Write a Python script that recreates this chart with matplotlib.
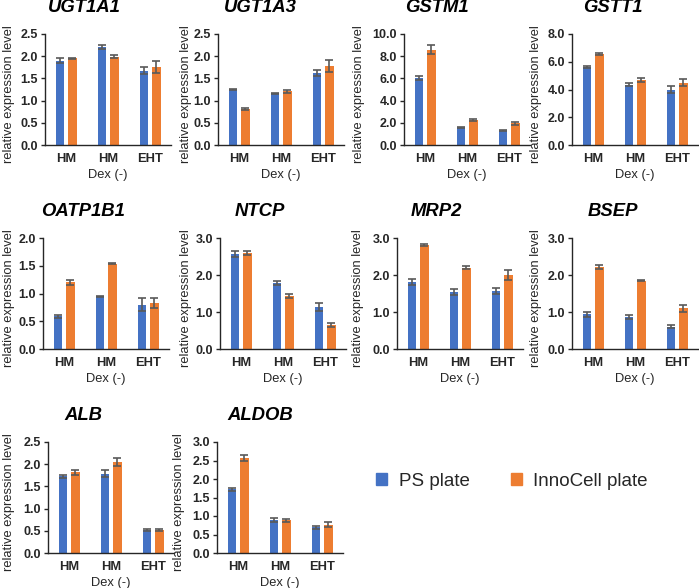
import matplotlib
matplotlib.use("Agg")
import matplotlib.pyplot as plt
from matplotlib.patches import Patch
import numpy as np

plt.rcParams['font.family'] = ['Liberation Sans', 'DejaVu Sans']

W, H = 699, 588

groups = ['HM', 'HM', 'EHT']
series = ['PS plate', 'InnoCell plate']
colors = ['#4472C4', '#ED7D31']

genes = ['UGT1A1', 'UGT1A3', 'GSTM1', 'GSTT1',
         'OATP1B1', 'NTCP', 'MRP2', 'BSEP',
         'ALB', 'ALDOB']

ps_vals = {
    'UGT1A1': [1.90, 2.21, 1.67],
    'UGT1A3': [1.25, 1.16, 1.62],
    'GSTM1': [6.05, 1.55, 1.30],
    'GSTT1': [5.60, 4.35, 4.00],
    'OATP1B1': [0.59, 0.95, 0.80],
    'NTCP': [2.57, 1.78, 1.13],
    'MRP2': [1.82, 1.54, 1.57],
    'BSEP': [0.94, 0.87, 0.60],
    'ALB': [1.73, 1.79, 0.52],
    'ALDOB': [1.72, 0.90, 0.69],
}
ps_err = {
    'UGT1A1': [0.06, 0.05, 0.08],
    'UGT1A3': [0.02, 0.02, 0.07],
    'GSTM1': [0.20, 0.05, 0.05],
    'GSTT1': [0.08, 0.12, 0.25],
    'OATP1B1': [0.03, 0.01, 0.11],
    'NTCP': [0.08, 0.05, 0.10],
    'MRP2': [0.08, 0.08, 0.08],
    'BSEP': [0.07, 0.06, 0.04],
    'ALB': [0.03, 0.08, 0.02],
    'ALDOB': [0.04, 0.05, 0.04],
}
inno_vals = {
    'UGT1A1': [1.95, 1.99, 1.76],
    'UGT1A3': [0.81, 1.21, 1.78],
    'GSTM1': [8.60, 2.25, 1.95],
    'GSTT1': [6.55, 4.70, 4.50],
    'OATP1B1': [1.20, 1.54, 0.83],
    'NTCP': [2.59, 1.44, 0.64],
    'MRP2': [2.81, 2.20, 2.00],
    'BSEP': [2.21, 1.85, 1.10],
    'ALB': [1.82, 2.04, 0.52],
    'ALDOB': [2.57, 0.88, 0.77],
}
inno_err = {
    'UGT1A1': [0.02, 0.03, 0.13],
    'UGT1A3': [0.02, 0.04, 0.13],
    'GSTM1': [0.40, 0.05, 0.15],
    'GSTT1': [0.05, 0.15, 0.25],
    'OATP1B1': [0.05, 0.01, 0.09],
    'NTCP': [0.06, 0.05, 0.05],
    'MRP2': [0.03, 0.03, 0.14],
    'BSEP': [0.05, 0.02, 0.09],
    'ALB': [0.06, 0.09, 0.02],
    'ALDOB': [0.08, 0.04, 0.08],
}
# (ymax, step)
yscale = {
    'UGT1A1': (2.5, 0.5), 'UGT1A3': (2.5, 0.5), 'GSTM1': (10.0, 2.0),
    'GSTT1': (8.0, 2.0), 'OATP1B1': (2.0, 0.5), 'NTCP': (3.0, 1.0),
    'MRP2': (3.0, 1.0), 'BSEP': (3.0, 1.0), 'ALB': (2.5, 0.5),
    'ALDOB': (3.0, 0.5),
}

# layout in pixels: axes left, axes top, title center x, ylabel center x
layout = {
    'UGT1A1': (45, 34, 84, 9), 'UGT1A3': (218, 34, 260, 186),
    'GSTM1': (404, 34, 437, 359), 'GSTT1': (572, 34, 613, 536),
    'OATP1B1': (43, 238, 83, 9), 'NTCP': (220, 238, 260, 186),
    'MRP2': (397, 238, 436, 358), 'BSEP': (572, 238, 613, 536),
    'ALB': (48, 442, 83, 9), 'ALDOB': (217, 442, 260, 179),
}
AW, AH = 126, 111

fig = plt.figure(figsize=(W / 100, H / 100), dpi=100)

x = np.arange(len(groups))
bw = 0.2
ekw = dict(ecolor='#595959', elinewidth=1.2, capsize=3, capthick=1.2)
for g in genes:
    left, top, tx, lx = layout[g]
    ax = fig.add_axes([left / W, 1 - (top + AH) / H, AW / W, AH / H])
    ax.bar(x - 0.15, ps_vals[g], bw, color=colors[0], yerr=ps_err[g], error_kw=ekw)
    ax.bar(x + 0.15, inno_vals[g], bw, color=colors[1], yerr=inno_err[g], error_kw=ekw)
    ymax, step = yscale[g]
    ax.set_ylim(0, ymax)
    ax.set_xlim(-0.5, 2.5)
    ticks = np.arange(0, ymax + step / 2, step)
    ax.set_yticks(ticks)
    ax.set_yticklabels(['%.1f' % t for t in ticks], fontsize=9, fontweight='bold', color='#262626')
    ax.set_xticks(x)
    ax.set_xticklabels(groups, fontsize=9.3, fontweight='bold', color='#262626')
    ax.tick_params(axis='x', length=0, pad=6)
    ax.tick_params(axis='y', length=3, width=1, color='#262626', pad=2)
    for s in ['top', 'right']:
        ax.spines[s].set_visible(False)
    for s in ['left', 'bottom']:
        ax.spines[s].set_color('#262626')
        ax.spines[s].set_linewidth(1)
    ax.text(1, -0.27, 'Dex (-)', transform=ax.get_xaxis_transform(),
            ha='center', va='center', fontsize=9.3, color='#262626')
    fig.text(tx / W, 1 - (top - 26) / H, g, ha='center', va='center',
             fontsize=13.3, fontweight='bold', fontstyle='italic')
    fig.text(lx / W, 1 - (top + AH / 2 + 5) / H, 'relative expression level',
             rotation=90, ha='center', va='center', fontsize=9.3, color='#262626')

handles = [Patch(color=c) for c in colors]
fig.legend(handles, series, loc='center', bbox_to_anchor=(512 / W, 1 - 481 / H),
           ncol=2, frameon=False, fontsize=13.5, handlelength=0.6, handleheight=0.6,
           handletextpad=0.6, columnspacing=2.2, labelcolor='#262626')

fig.savefig('out.png', dpi=100)
